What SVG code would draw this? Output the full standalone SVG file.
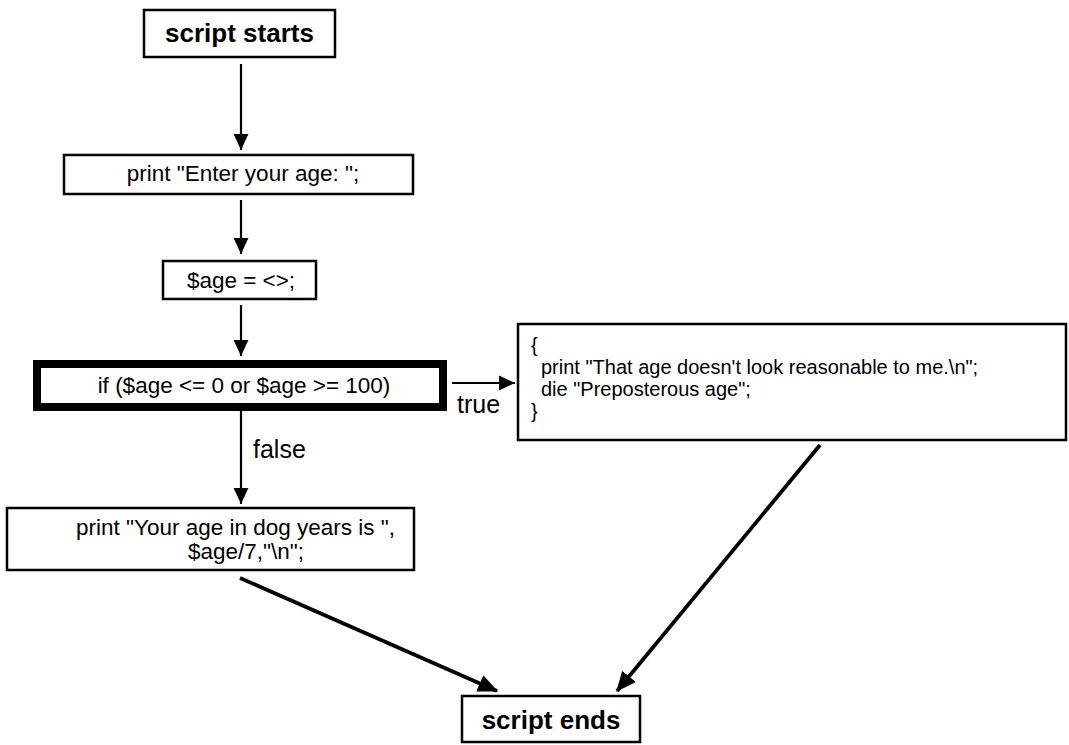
<svg xmlns="http://www.w3.org/2000/svg" width="1069" height="745" viewBox="0 0 1069 745">
<style>
.box{fill:#fff;stroke:#000;stroke-width:2.5}
.t{font-family:"Liberation Sans",Arial,sans-serif;font-size:22.5px;fill:#000}
.r{font-family:"Liberation Sans",Arial,sans-serif;font-size:20px;fill:#000}
.l{font-family:"Liberation Sans",Arial,sans-serif;font-size:25px;fill:#000}
.b{font-family:"Liberation Sans",Arial,sans-serif;font-size:26px;font-weight:bold;fill:#000}
.c{stroke:#000;stroke-width:2.2;fill:none}
.d{stroke:#000;stroke-width:3.8;fill:none}
</style>
<defs>
<marker id="ah" markerUnits="userSpaceOnUse" markerWidth="17" markerHeight="16" refX="15" refY="7" orient="auto" viewBox="0 0 16 14">
<path d="M0,0 L15,7 L0,14 Z" fill="#000"/>
</marker>
<marker id="ah2" markerUnits="userSpaceOnUse" markerWidth="20" markerHeight="18" refX="17" refY="8" orient="auto" viewBox="0 0 18 16">
<path d="M0,0 L18,8 L0,16 Z" fill="#000"/>
</marker>
</defs>
<rect width="1069" height="745" fill="#fff"/>
<g id="connectors">
<line class="c" x1="241" y1="64" x2="241" y2="150" marker-end="url(#ah)"/>
<line class="c" x1="241" y1="200" x2="241" y2="254" marker-end="url(#ah)"/>
<line class="c" x1="241" y1="305" x2="241" y2="356" marker-end="url(#ah)"/>
<line class="c" x1="452" y1="383" x2="515" y2="383" marker-end="url(#ah)"/>
<line class="c" x1="241" y1="411" x2="241" y2="504" marker-end="url(#ah)"/>
<line class="d" x1="240" y1="578" x2="497" y2="691" marker-end="url(#ah2)"/>
<line class="d" x1="820" y1="445" x2="617" y2="691" marker-end="url(#ah2)"/>
<text class="l" x="457" y="413">true</text>
<text class="l" x="253" y="458">false</text>
</g>
<g id="start">
<rect class="box" x="144" y="10" width="191" height="47"/>
<text class="b" x="239.5" y="42" text-anchor="middle">script starts</text>
</g>
<g id="prompt">
<rect class="box" x="64" y="155" width="349" height="39"/>
<text class="t" x="243" y="181" text-anchor="middle">print "Enter your age: ";</text>
</g>
<g id="read">
<rect class="box" x="163" y="261" width="153" height="38"/>
<text class="t" x="241" y="288" text-anchor="middle">$age = &lt;&gt;;</text>
</g>
<g id="cond">
<rect x="37" y="364" width="406" height="43" fill="#fff" stroke="#000" stroke-width="8"/>
<text class="t" x="244" y="393" text-anchor="middle">if ($age &lt;= 0 or $age &gt;= 100)</text>
</g>
<g id="die">
<rect class="box" x="518" y="324" width="548" height="116"/>
<text class="r" x="531" y="352">{</text>
<text class="r" x="541" y="374">print "That age doesn't look reasonable to me.\n";</text>
<text class="r" x="541" y="396">die "Preposterous age";</text>
<text class="r" x="531" y="418">}</text>
</g>
<g id="dog">
<rect class="box" x="7" y="508" width="407" height="62"/>
<text class="t" x="76" y="535">print "Your age in dog years is ",</text>
<text class="t" x="188" y="559">$age/7,"\n";</text>
</g>
<g id="end">
<rect class="box" x="462" y="696" width="178" height="46"/>
<text class="b" x="551" y="729" text-anchor="middle">script ends</text>
</g>
</svg>
